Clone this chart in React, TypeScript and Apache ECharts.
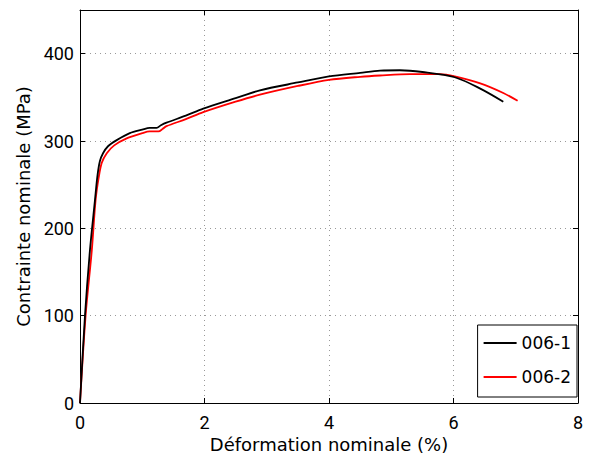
import React, { useEffect, useRef } from "react";
import * as echarts from "echarts";

const seriesNames = ["006-1", "006-2"];
const seriesColors = ["#000000", "#ff0000"];

const strain1 = [0, 0.08, 0.16, 0.24, 0.28, 0.32, 0.37, 0.45, 0.59, 0.8, 1.0, 1.12, 1.23, 1.3, 1.39, 1.7, 1.98, 2.5, 2.89, 3.5, 4.0, 4.5, 4.82, 5.14, 5.5, 6.02, 6.43, 6.8];
const stress1 = [0, 100, 175, 232, 260, 277, 286, 294, 301, 309, 313, 315, 315, 318, 321, 329, 337, 349, 358, 367, 374, 378, 380.5, 381, 379, 373, 360, 345];

const strain2 = [0, 0.09, 0.19, 0.25, 0.3, 0.35, 0.43, 0.55, 0.75, 1.0, 1.12, 1.26, 1.33, 1.39, 1.7, 1.98, 2.5, 2.89, 3.5, 4.0, 4.5, 4.82, 5.3, 5.78, 6.02, 6.43, 6.8, 7.03];
const stress2 = [0, 100, 175, 232, 258, 275, 286, 295, 303, 309, 311, 311, 314, 317, 325, 333, 345, 353, 363, 370, 373.5, 375, 376.5, 376.5, 374, 366, 355, 346];

const xTicks = [0, 2, 4, 6, 8];
const yTicks = [0, 100, 200, 300, 400];

const xTitle = "Déformation nominale (%)";
const yTitle = "Contrainte nominale (MPa)";

const TICK_FONT = "Roboto";
const FONT = "DejaVu Sans";

export default function App() {
  const ref = useRef<HTMLDivElement>(null);
  useEffect(() => {
    if (!ref.current) return;
    const chart = echarts.init(ref.current, undefined, { renderer: "svg" });
    const zip = (a: number[], b: number[]) => a.map((v, i) => [v, b[i]]);
    const baseAxis = {
      axisLine: { show: true, onZero: false, lineStyle: { color: "#000", width: 1 } },
      axisTick: { show: true, inside: true, length: 5, lineStyle: { color: "#000" } },
    };
    chart.setOption({
      animation: false,
      backgroundColor: "#fff",
      grid: { left: 80, right: 17, top: 10, bottom: 61, containLabel: false },
      legend: {
        orient: "vertical",
        right: 18,
        bottom: 67,
        backgroundColor: "#fff",
        borderColor: "#000",
        borderWidth: 1,
        borderRadius: 0,
        padding: [7, 6, 9, 6],
        itemWidth: 33,
        itemHeight: 2,
        itemGap: 12,
        textStyle: { fontFamily: FONT, fontSize: 17, lineHeight: 22, color: "#000" },
        data: seriesNames.map((n, i) => ({ name: n, icon: "rect", itemStyle: { color: seriesColors[i] } })),
      },
      xAxis: [
        {
          type: "value",
          min: 0,
          max: 8,
          interval: 2,
          position: "bottom",
          ...baseAxis,
          axisLabel: { fontFamily: TICK_FONT, fontSize: 18, color: "#000", margin: 10, formatter: (v: number) => (xTicks.includes(v) ? String(v) : "") },
          splitLine: { show: true, lineStyle: { type: [1, 4], color: "#999", width: 1 } },
          name: xTitle,
          nameLocation: "middle",
          nameGap: 32,
          nameTextStyle: { fontFamily: FONT, fontSize: 18, color: "#000" },
        },
        {
          type: "value",
          min: 0,
          max: 8,
          interval: 2,
          position: "top",
          ...baseAxis,
          axisLabel: { show: false },
          splitLine: { show: false },
        },
      ],
      yAxis: [
        {
          type: "value",
          min: 0,
          max: 450,
          interval: 100,
          position: "left",
          ...baseAxis,
          axisLabel: { fontFamily: TICK_FONT, fontSize: 18, color: "#000", margin: 6, showMaxLabel: false, formatter: (v: number) => (yTicks.includes(v) ? String(v) : "") },
          splitLine: { show: true, lineStyle: { type: [1, 4], color: "#999", width: 1 } },
          name: yTitle,
          nameLocation: "middle",
          nameGap: 39,
          nameTextStyle: { fontFamily: FONT, fontSize: 18, color: "#000" },
        },
        {
          type: "value",
          min: 0,
          max: 450,
          interval: 100,
          position: "right",
          ...baseAxis,
          axisLabel: { show: false },
          splitLine: { show: false },
        },
      ],
      series: [
        {
          name: seriesNames[0],
          type: "line",
          data: zip(strain1, stress1),
          showSymbol: false,
          smooth: 0.3,
          lineStyle: { color: seriesColors[0], width: 1.8 },
          itemStyle: { color: seriesColors[0] },
          z: 3,
        },
        {
          name: seriesNames[1],
          type: "line",
          data: zip(strain2, stress2),
          showSymbol: false,
          smooth: 0.3,
          lineStyle: { color: seriesColors[1], width: 1.8 },
          itemStyle: { color: seriesColors[1] },
          z: 2,
        },
      ],
    });
    return () => chart.dispose();
  }, []);
  return <div ref={ref} style={{ width: 595, height: 464, position: "absolute", left: 0, top: 0 }} />;
}
